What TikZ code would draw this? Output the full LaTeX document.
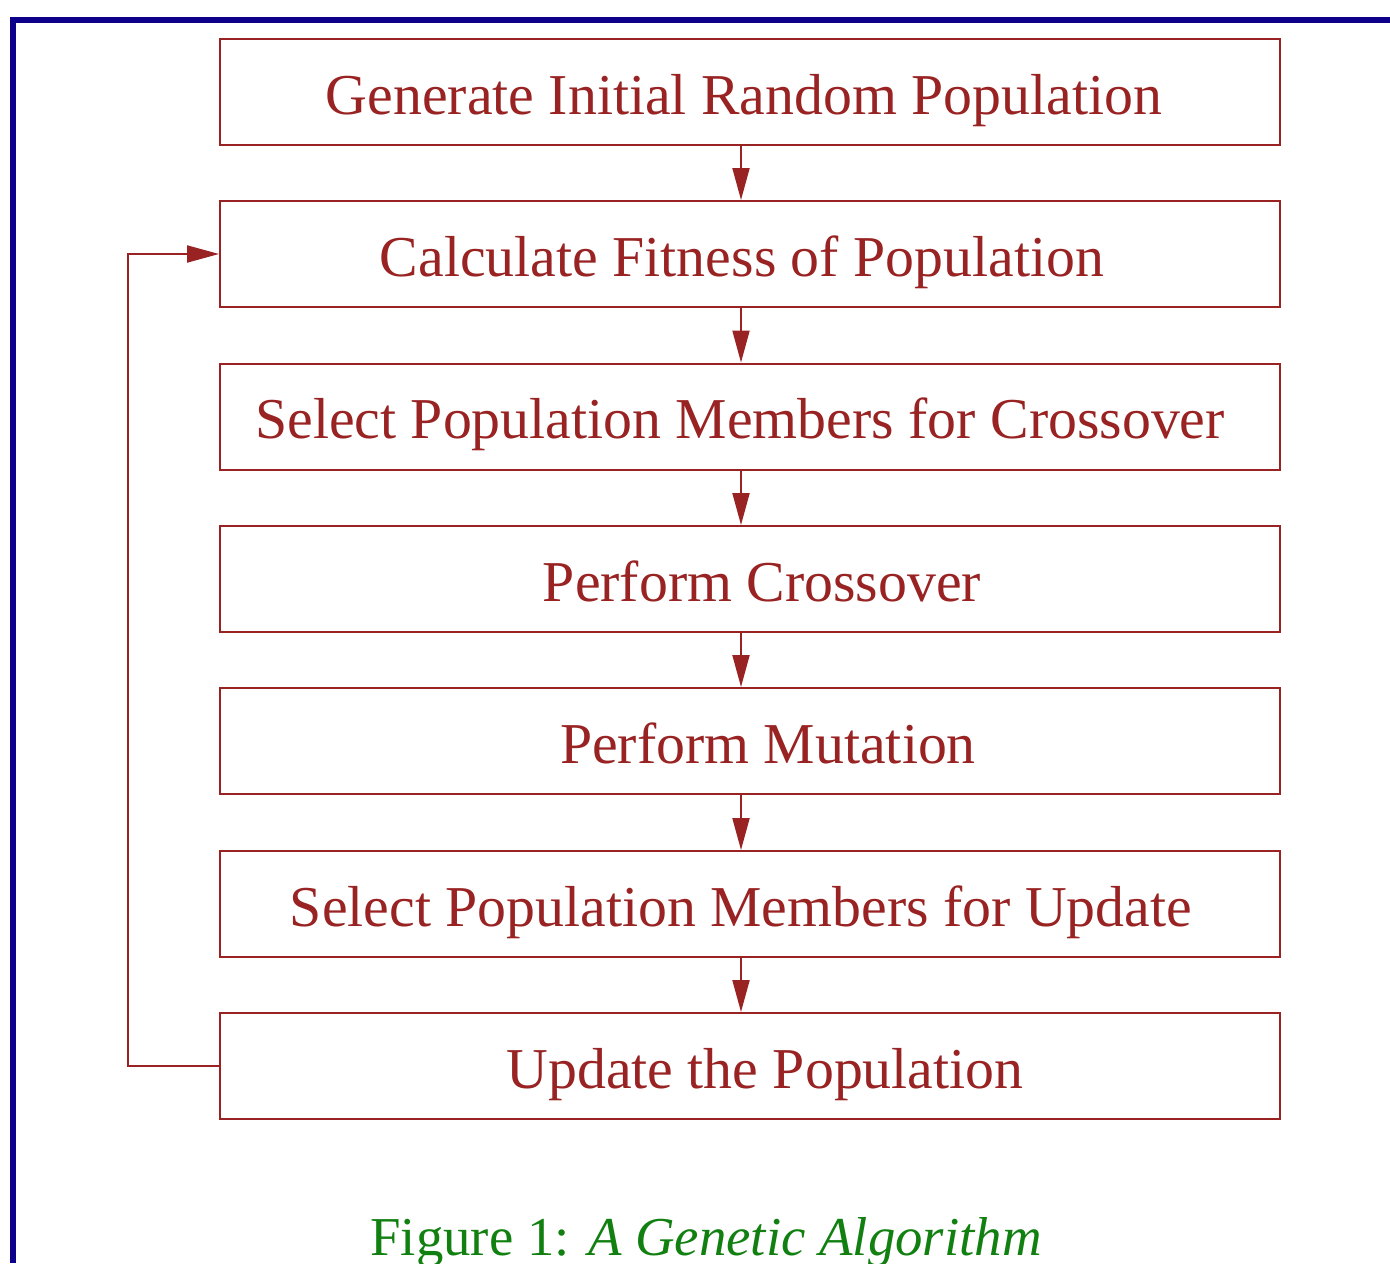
\documentclass[tikz,border=0pt]{standalone}
\usepackage{fontspec}
\setmainfont{Liberation Serif}
\usetikzlibrary{arrows.meta}
\definecolor{boxred}{RGB}{153,34,34}
\definecolor{framenavy}{RGB}{13,0,138}
\definecolor{capgreen}{RGB}{17,128,17}
\begin{document}
\begin{tikzpicture}[x=0.5pt,y=-0.5pt,
    stage/.style={draw=boxred,line width=1pt,minimum width=530pt,minimum height=53pt,
      inner sep=0pt,text height=25pt,text depth=3pt,text=boxred,
      font=\fontsize{28.9}{34}\selectfont},
    flow/.style={draw=boxred,line width=1pt,-{Triangle[length=16pt,width=8.5pt]}}]
    \useasboundingbox (0,0) rectangle (1390,1263);
    %% Frame
    \draw[framenavy,line width=3pt] (13,1263) -- (13,20.5) -- (1390,20.5);
    %% Stages
    \node[stage] (gen)   at (750,92)    {\hspace*{-6pt}Generate Initial Random Population};
    \node[stage] (fit)   at (750,254)   {\hspace*{-8pt}Calculate Fitness of Population};
    \node[stage] (selx)  at (750,416.5) {\hspace*{-10pt}Select Population Members for Crossover};
    \node[stage] (cross) at (750,579)   {\hspace*{12pt}Perform Crossover};
    \node[stage] (mut)   at (750,741)   {\hspace*{18pt}Perform Mutation};
    \node[stage] (selu)  at (750,904)   {\hspace*{-9pt}Select Population Members for Update};
    \node[stage] (upd)   at (750,1066)  {\hspace*{15pt}Update the Population};
    %% Flow
    \draw[flow] ([xshift=-4.5pt]gen.south)   -- ([xshift=-4.5pt]fit.north);
    \draw[flow] ([xshift=-4.5pt]fit.south)   -- ([xshift=-4.5pt]selx.north);
    \draw[flow] ([xshift=-4.5pt]selx.south)  -- ([xshift=-4.5pt]cross.north);
    \draw[flow] ([xshift=-4.5pt]cross.south) -- ([xshift=-4.5pt]mut.north);
    \draw[flow] ([xshift=-4.5pt]mut.south)   -- ([xshift=-4.5pt]selu.north);
    \draw[flow] ([xshift=-4.5pt]selu.south)  -- ([xshift=-4.5pt]upd.north);
    %% Loop back
    \draw[flow] (upd.west) -- ++(-91,0) |- (fit.west);
    %% Caption
    \node[anchor=base,text=capgreen,font=\fontsize{27.4}{32}\selectfont] (cap) at (706,1255)
        {Figure 1: \textit{A Genetic Algorithm}};
\end{tikzpicture}
\end{document}
